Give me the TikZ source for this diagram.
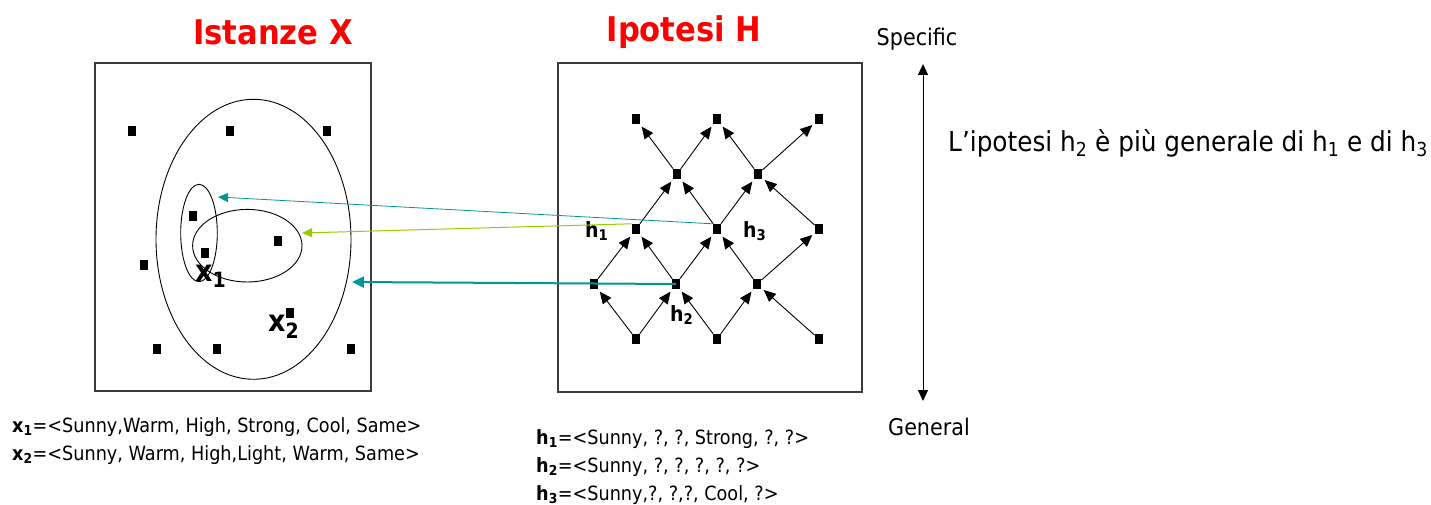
\documentclass[tikz,border=0pt]{standalone}
\usepackage{fontspec}
\setmainfont{DejaVu Sans}[FakeStretch=0.9]
\usetikzlibrary{arrows.meta,shapes.geometric}
\definecolor{tealc}{RGB}{0,150,150}
\definecolor{limec}{RGB}{153,204,0}
\definecolor{boxc}{RGB}{60,60,60}
\begin{document}
\begin{tikzpicture}[x=1pt,y=-1pt,
  sq/.style={fill=black,inner sep=0pt,minimum width=8.5pt,minimum height=10pt},
  ar/.style={line width=0.9pt,-{Triangle[length=12pt,width=10.5pt]},shorten >=3pt},
  cbox/.style={draw=boxc,line width=1.2pt},
  ell/.style={draw,line width=0.9pt},
  ttl/.style={text=red,font=\fontsize{34}{38}\selectfont\bfseries},
  txt/.style={font=\fontsize{19.6}{24}\selectfont,inner sep=0pt},
  side/.style={font=\fontsize{23}{27}\selectfont,inner sep=0pt},
  lbl/.style={font=\fontsize{21}{25}\selectfont\bfseries,inner sep=0pt,anchor=base west},
  lblx/.style={font=\fontsize{30}{34}\selectfont\bfseries,inner sep=0pt,anchor=base west}]
\useasboundingbox (0,0) rectangle (1431,505);

% titles
\node[ttl] (tX) at (273,32) {Istanze X};
\node[ttl] (tH) at (684,32) {Ipotesi H};

% boxes
\draw[cbox] (95,63) rectangle (371,391);
\draw[cbox] (558,63) rectangle (862,392);

% ellipses
\draw[ell] (253.5,239.3) ellipse [x radius=97.5, y radius=140];
\draw[ell] (199,233) ellipse [x radius=18.3, y radius=48.7];
\draw[ell] (247.3,245.7) ellipse [x radius=54.7, y radius=36.3];

% instance points
\foreach \p/\n in {(132,131)/a1,(230,131)/a2,(327,131)/a3,(193,216)/a4,(205,253)/a5,
  (278,241)/a6,(144,265)/a7,(290,313)/a8,(157,349)/a9,(217,349)/a10,(351,349)/a11}
  \node[sq] (\n) at \p {};

\node[lblx] (x1) at (195,281) {x\textsubscript{1}};
\node[lblx] (x2) at (268,331) {x\textsubscript{2}};

% hypothesis lattice
\node[sq] (t1) at (636,119) {};
\node[sq] (t2) at (717,119) {};
\node[sq] (t3) at (819,119) {};
\node[sq] (m1) at (677,174) {};
\node[sq] (m2) at (758,174) {};
\node[sq] (r1) at (636,229) {};
\node[sq] (r2) at (717,229) {};
\node[sq] (r3) at (819,229) {};
\node[sq] (q1) at (594,284) {};
\node[sq] (q2) at (676,284) {};
\node[sq] (q3) at (757,284) {};
\node[sq] (b1) at (636,339) {};
\node[sq] (b2) at (717,339) {};
\node[sq] (b3) at (819,339) {};

\foreach \s/\t in {m1/t1,m1/t2,m2/t2,m2/t3,r1/m1,r2/m1,r2/m2,r3/m2,
  q1/r1,q2/r1,q2/r2,q3/r2,q3/r3,b1/q1,b1/q2,b2/q2,b2/q3,b3/q3}
  \draw[ar] (\s) -- (\t);

\node[lbl] (h1) at (585,237) {h\textsubscript{1}};
\node[lbl] (h3) at (743,237) {h\textsubscript{3}};
\node[lbl] (h2) at (670,321) {h\textsubscript{2}};

% mapping arrows
\coordinate (e1) at (218,197);
\coordinate (e2) at (302,233);
\coordinate (e3) at (352,282);
\draw[tealc,line width=0.8pt,-{Triangle[length=10pt,width=9pt]}] (r2.north west) -- (e1);
\draw[limec,line width=1pt,-{Triangle[length=10pt,width=9pt]}] (r1.north west) -- (e2);
\draw[tealc,line width=2pt,-{Triangle[length=12pt,width=11pt]}] (q2.center) -- (e3);

% specific / general
\node[side] (spec) at (917,39) {Specific};
\node[side] (gen) at (929,427) {General};
\coordinate (ta) at (923,64);
\coordinate (tb) at (923,401);
\draw[line width=1pt,{Triangle[length=11pt,width=10pt]}-{Triangle[length=11pt,width=10pt]}] (ta) -- (tb);

\node[font=\fontsize{27.5}{31}\selectfont,inner sep=0pt,anchor=west] (stmt) at (948,143)
  {L’ipotesi h\textsubscript{2} è più generale di h\textsubscript{1} e di h\textsubscript{3}};

% bottom texts
\node[txt,anchor=base west] (lx1) at (12,432) {\textbf{x\textsubscript{1}}=<Sunny,Warm, High, Strong, Cool, Same>};
\node[txt,anchor=base west] (lx2) at (12,460) {\textbf{x\textsubscript{2}}=<Sunny, Warm, High,Light, Warm, Same>};
\node[txt,anchor=base west] (lh1) at (536,444) {\textbf{h\textsubscript{1}}=<Sunny, ?, ?, Strong, ?, ?>};
\node[txt,anchor=base west] (lh2) at (536,472) {\textbf{h\textsubscript{2}}=<Sunny, ?, ?, ?, ?, ?>};
\node[txt,anchor=base west] (lh3) at (536,500) {\textbf{h\textsubscript{3}}=<Sunny,?, ?,?, Cool, ?>};
\end{tikzpicture}
\end{document}
